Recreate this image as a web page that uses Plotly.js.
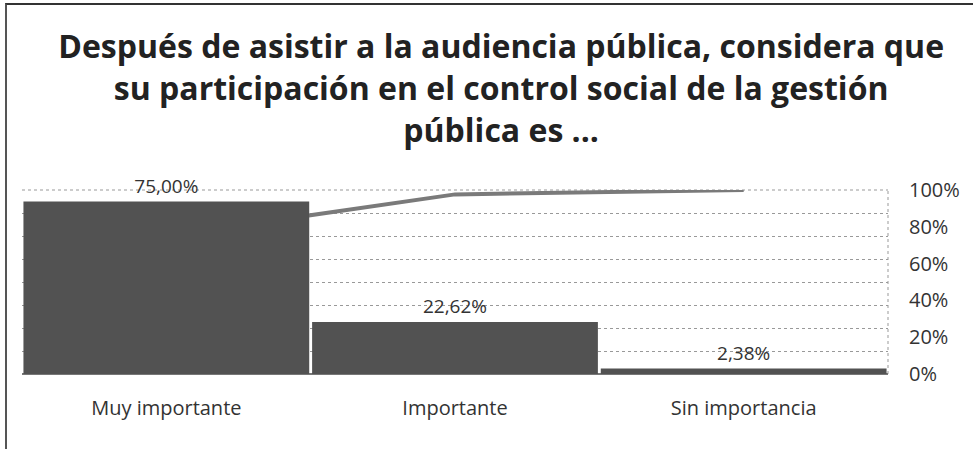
<!DOCTYPE html>
<html>
<head>
<meta charset="utf-8">
<script src="https://cdn.plot.ly/plotly-3.0.1.min.js"></script>
<style>
  html, body { margin: 0; padding: 0; background: #fff; }
  #wrap { position: relative; width: 975px; height: 449px; }
  #chart { width: 975px; height: 449px; }
  #frame { position: absolute; left: 5px; top: 3px; width: 966px; height: 446px;
           border-top: 2px solid #333; border-left: 2px solid #555; pointer-events: none; }
</style>
</head>
<body>
<div id="wrap"><div id="chart"></div><div id="frame"></div></div>
<script>
const categories = ["Muy importante", "Importante", "Sin importancia"];
const percentages = [75.00, 22.62, 2.38];
const cumulative = [75.00, 97.62, 100.00];
const rightTicks = [0, 20, 40, 60, 80, 100];
const rightTickText = rightTicks.map(v => v + "%");

const FONT = "'Open Sans', Lato, sans-serif";

const lineTrace = {
  type: "scatter", mode: "lines",
  x: categories, y: cumulative,
  xaxis: "x", yaxis: "y",
  line: { color: "#7a7a7a", width: 4 },
  hoverinfo: "skip", showlegend: false
};
const barTrace = {
  type: "bar",
  x: categories, y: percentages,
  xaxis: "x", yaxis: "y2",
  marker: { color: "#525252", line: { width: 0 } },
  text: percentages,
  texttemplate: "%{y:.2f}%",
  textposition: "outside",
  cliponaxis: false,
  textfont: { family: FONT, size: 19, color: "#333" },
  showlegend: false
};

const layout = {
  width: 975, height: 449,
  margin: { l: 22, r: 87, t: 190, b: 75, pad: 0 },
  paper_bgcolor: "#fff", plot_bgcolor: "#fff",
  separators: ",.",
  bargap: 0.01,
  showlegend: false,
  title: {
    text: "<b>Después de asistir a la audiencia pública, considera que<br>su participación en el control social de la gestión<br>pública es ...</b>",
    font: { family: FONT, size: 32, color: "#222" },
    x: 0.514, xanchor: "center", y: 0.87, yanchor: "top"
  },
  xaxis: {
    type: "category",
    showgrid: false, zeroline: false,
    showline: false,
    ticks: "",
    tickfont: { family: FONT, size: 20, color: "#333" },
    ticklabelstandoff: 20
  },
  yaxis: {
    range: [0, 100],
    side: "right",
    tickmode: "array",
    tickvals: rightTicks,
    ticktext: rightTickText,
    showgrid: false, zeroline: false, showline: false,
    ticks: "",
    tickfont: { family: FONT, size: 20, color: "#333" },
    ticklabelstandoff: 20
  },
  yaxis2: {
    overlaying: "y",
    range: [0, 80],
    dtick: 10,
    showticklabels: false,
    showgrid: true, gridcolor: "#999", griddash: "dot", gridwidth: 1,
    zeroline: true, zerolinecolor: "#777", zerolinewidth: 2,
    showline: false, ticks: ""
  },
  shapes: [
    { type: "line", xref: "paper", yref: "paper", x0: 1, x1: 1, y0: 0, y1: 1,
      line: { color: "#999", width: 1, dash: "dot" }, layer: "below" },
    { type: "line", xref: "paper", yref: "paper", x0: 0, x1: 1, y0: 1, y1: 1,
      line: { color: "#999", width: 1, dash: "dot" }, layer: "below" }
  ]
};

Plotly.newPlot("chart", [lineTrace, barTrace], layout, { displayModeBar: false, staticPlot: true });
</script>
</body>
</html>
